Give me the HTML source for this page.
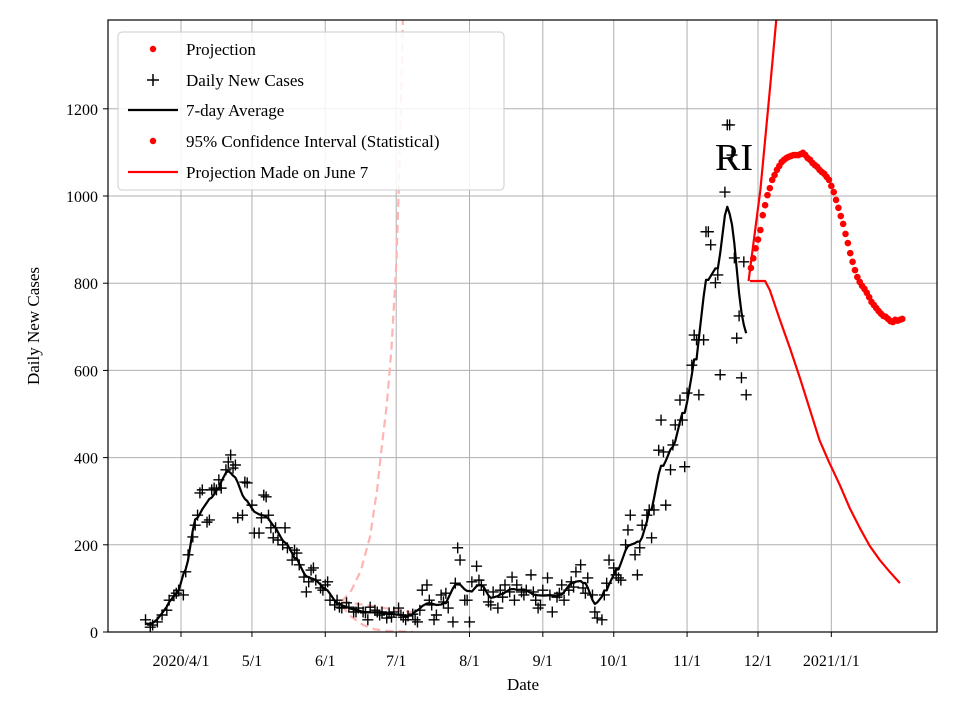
<!DOCTYPE html>
<html><head><meta charset="utf-8"><style>
body{margin:0;background:#fff}
svg{display:block;font-family:"Liberation Serif",serif}
</style></head><body>
<svg id="chart" width="960" height="720">
<defs><clipPath id="clip"><rect x="108" y="20" width="829" height="612"/></clipPath></defs>
<rect x="0" y="0" width="960" height="720" fill="#fff"/>
<g id="grid"></g>
<g id="marks" clip-path="url(#clip)"></g>
<rect x="108" y="20" width="829" height="612" fill="none" stroke="#000" stroke-width="1.2"/>
<g id="axes"></g>
<text x="734" y="170" font-size="38" text-anchor="middle">RI</text>
<text x="523" y="690" font-size="17" text-anchor="middle">Date</text>
<text x="39" y="326" font-size="17" text-anchor="middle" transform="rotate(-90 39 326)">Daily New Cases</text>
<g>
<rect x="118" y="32" width="386" height="158" rx="4" fill="#fff" fill-opacity="0.85" stroke="#ccc"/>
<g><circle cx="153" cy="49" r="3.2" fill="red"/><text x="186" y="55" font-size="17">Projection</text></g>
<g><path d="M147 80h12M153 74v12" stroke="#000" stroke-width="1.5"/><text x="186" y="86" font-size="17">Daily New Cases</text></g>
<g><path d="M128 110h50" stroke="#000" stroke-width="2.2"/><text x="186" y="116" font-size="17">7-day Average</text></g>
<g><circle cx="153" cy="141" r="3.2" fill="red"/><text x="186" y="147" font-size="17">95% Confidence Interval (Statistical)</text></g>
<g><path d="M128 172h50" stroke="red" stroke-width="2.2"/><text x="186" y="178" font-size="17">Projection Made on June 7</text></g>
</g>
</svg>
<script>
// days are counted from 2020-04-01
const xTickDays=[0,30,61,91,122,153,183,214,244,275];
const xTickLabels=["2020/4/1","5/1","6/1","7/1","8/1","9/1","10/1","11/1","12/1","2021/1/1"];
const yTicks=[0,200,400,600,800,1000,1200];
const caseDays=[-15,-13,-12,-10,-8,-6,-5,-3,-2,-1,1,2,3,5,6,7,8,9,11,12,13,14,15,16,17,19,20,21,22,23,24,26,27,28,30,31,33,34,35,36,37,38,39,40,41,43,44,45,47,48,49,50,52,53,54,55,56,57,59,60,61,62,63,65,66,67,68,70,71,73,74,75,77,78,79,80,82,83,84,85,87,88,89,90,92,93,94,95,96,98,99,100,101,102,104,105,106,107,108,110,111,112,113,115,116,117,118,120,121,122,123,125,126,127,128,130,131,132,134,135,136,137,139,140,141,142,144,145,146,148,149,150,151,152,153,155,156,157,159,160,161,162,164,165,166,167,169,170,171,172,174,175,176,178,179,180,181,183,184,185,186,188,189,190,192,193,194,195,197,198,199,200,202,203,204,205,207,208,209,211,212,213,214,216,217,218,219,221,222,223,224,226,227,228,230,231,232,233,234,235,236,237,238,239];
const caseValues=[28,11,16,23,39,50,73,83,89,96,85,138,177,218,245,268,319,326,252,257,326,330,326,349,330,372,390,406,376,383,262,268,344,342,291,227,227,262,314,310,268,239,216,239,211,200,239,193,165,188,181,154,126,92,115,142,147,119,101,96,108,115,73,62,73,57,55,67,57,46,46,55,46,44,28,57,50,46,39,46,32,44,34,46,55,39,34,28,37,41,28,23,50,96,108,73,62,28,39,85,69,89,55,23,112,193,165,73,73,23,115,151,119,108,96,69,62,92,55,96,80,108,92,126,73,108,92,85,96,131,92,73,55,62,96,124,85,46,80,89,108,73,96,115,103,138,154,101,89,124,85,46,32,28,85,112,165,147,131,124,119,200,234,268,177,131,193,245,268,280,216,280,417,486,413,291,372,429,475,532,486,379,548,612,681,670,544,670,918,918,888,801,819,590,1009,1163,1163,1094,858,674,725,583,849,544];
const projStartDay=241;
const projValues=[835,857,880,900,922,956,979,1002,1018,1037,1048,1060,1069,1078,1083,1087,1090,1092,1094,1094,1094,1096,1099,1094,1087,1083,1076,1071,1067,1060,1055,1051,1044,1037,1023,1009,991,973,954,936,913,892,869,849,830,814,803,794,787,778,768,757,750,743,736,730,725,723,718,713,711,716,714,716,718];
const lowDays=[240.6,247,249,253,257.5,261.7,266,270,274,278.6,282.8,287,291.3,295.5,299.7,304];
const lowValues=[805,805,784,720,651,583,509,440,390,337,284,239,197,165,138,112];
const highDays=[240,245,249,253];
const highValues=[805,1014,1243,1480];
const june7UpDays=[68,72,76,80,83,85,87,89,91,92,93,94,95];
const june7UpValues=[70,95,140,220,330,430,520,650,840,1000,1200,1450,1700];
const june7MidDays=[68,98];
const june7MidValues=[70,45];
const june7LowDays=[68,72,77,82,88,95,98];
const june7LowValues=[60,35,16,6,2,1,1];

const NS="http://www.w3.org/2000/svg";
const X=d=>181+d*2.3648, Y=v=>632-v*0.436;
const grid=document.getElementById('grid'),marks=document.getElementById('marks'),axes=document.getElementById('axes');
function mk(tag,attrs,parent){const e=document.createElementNS(NS,tag);for(const k in attrs)e.setAttribute(k,attrs[k]);parent.appendChild(e);return e;}
xTickDays.forEach((d,i)=>{
  const l=mk('line',{x1:X(d),x2:X(d),y1:20,y2:632,stroke:'#b0b0b0','stroke-width':1},grid);
  
  
  const t=mk('line',{x1:X(d),x2:X(d),y1:632,y2:637,stroke:'#000'},axes);
  
  
  const tx=mk('text',{x:X(d),y:666,'font-size':16,'text-anchor':'middle'},axes);
  tx.textContent=xTickLabels[i];
  
  
});
yTicks.forEach(v=>{
  const l=mk('line',{x1:108,x2:937,y1:Y(v),y2:Y(v),stroke:'#b0b0b0','stroke-width':1},grid);
  
  
  const t=mk('line',{x1:103,x2:108,y1:Y(v),y2:Y(v),stroke:'#000'},axes);
  
  
  const tx=mk('text',{x:98,y:Y(v)+6,'font-size':16,'text-anchor':'end'},axes);
  tx.textContent=v;
  
  
});
function line(ds,vs,attrs,name){
  const p=mk('polyline',Object.assign({points:ds.map((d,i)=>X(d)+','+Y(vs[i])).join(' '),fill:'none','stroke-linejoin':'round'},attrs),marks);
  
  
}
line(june7UpDays,june7UpValues,{stroke:'#ffb3b3','stroke-width':2.2,'stroke-dasharray':'8,5'},'june7-upper-line');
line(june7MidDays,june7MidValues,{stroke:'#ffb3b3','stroke-width':2.2,'stroke-dasharray':'8,5'},'june7-mid-line');
line(june7LowDays,june7LowValues,{stroke:'#ffb3b3','stroke-width':2.2,'stroke-dasharray':'8,5'},'june7-lower-line');
caseDays.forEach((d,i)=>{
  const x=X(d),y=Y(caseValues[i]);
  const p=mk('path',{d:`M${x-5.5} ${y}h11M${x} ${y-5.5}v11`,stroke:'#000','stroke-width':1.4},marks);
  
  
});
// 7-day average from data, then light smoothing
function smooth(ds,vs,w){return ds.map(d=>{let s=0,n=0;ds.forEach((e,j)=>{if(Math.abs(e-d)<=w){s+=vs[j];n++;}});return s/n;});}
let avgV=smooth(caseDays,caseValues,3.5);
avgV=smooth(caseDays,avgV,2);
line(caseDays,avgV,{stroke:'#000','stroke-width':2.2},'seven-day-average-line');
line(lowDays,lowValues,{stroke:'red','stroke-width':2.2},'ci-lower-line');
line(highDays,highValues,{stroke:'red','stroke-width':2.2},'ci-upper-line');
projValues.forEach((v,i)=>{
  const c=mk('circle',{cx:X(projStartDay+i),cy:Y(v),r:3.3,fill:'red'},marks);
  
  
});
</script>
</body></html>
